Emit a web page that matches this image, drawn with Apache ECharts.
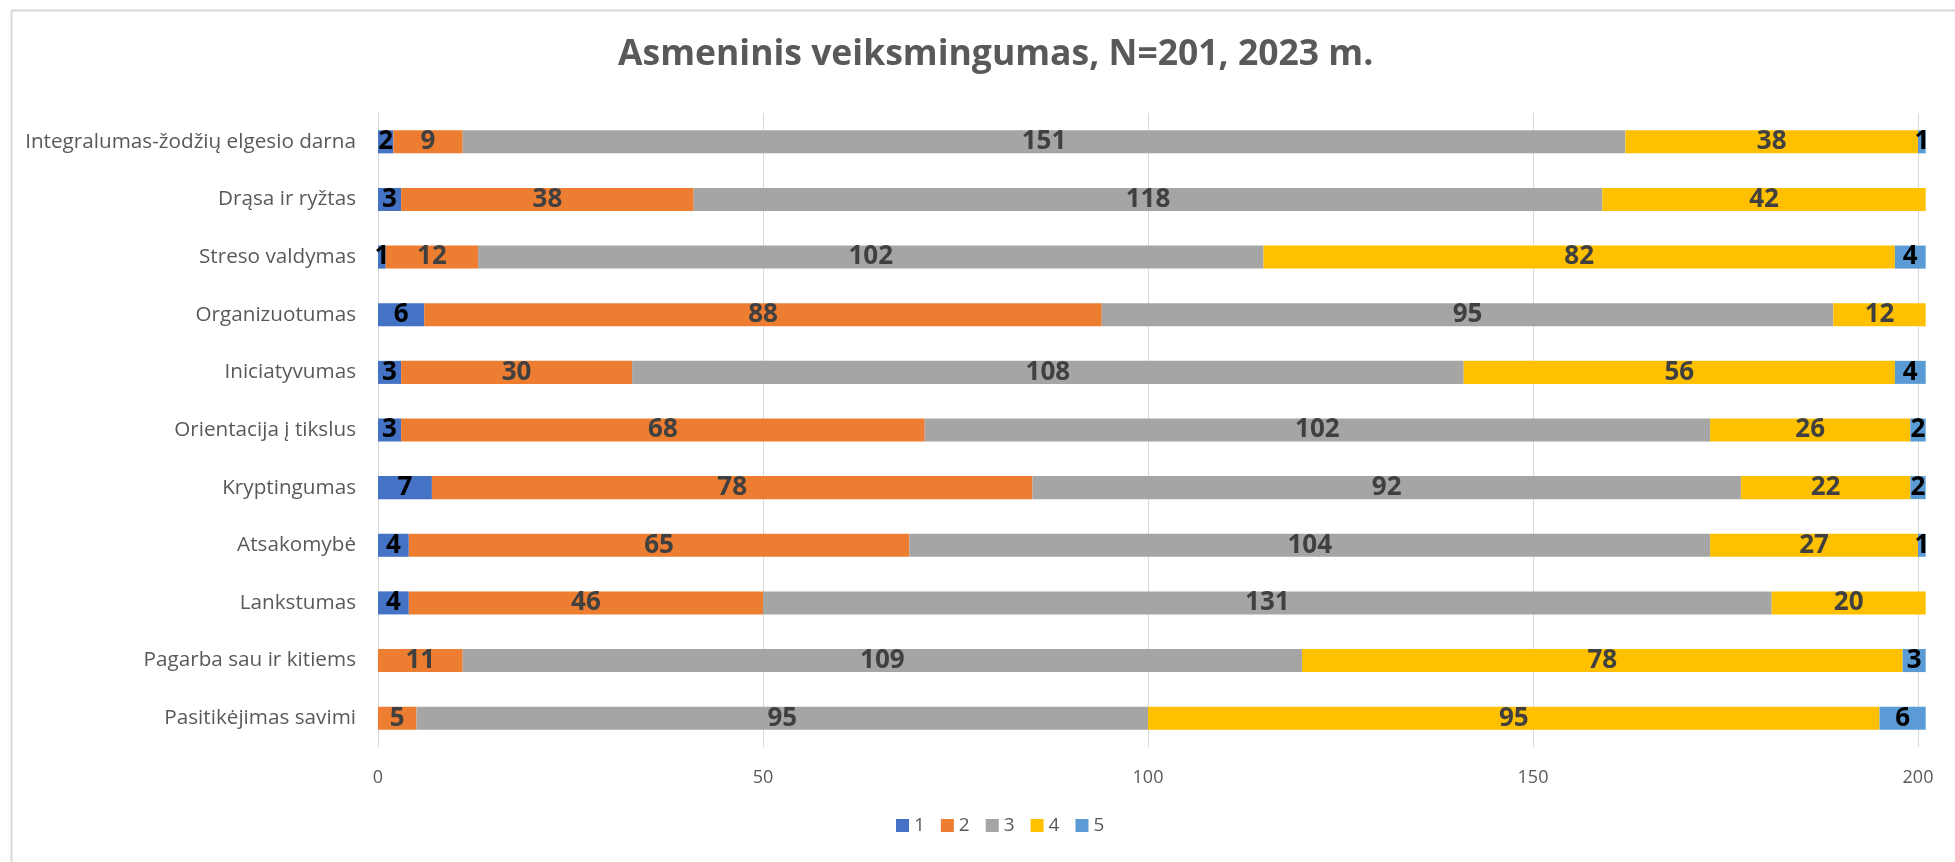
<!DOCTYPE html>
<html>
<head>
<meta charset="utf-8">
<script src="https://cdn.jsdelivr.net/npm/echarts@6/dist/echarts.min.js"></script>
<style>
  html, body { margin: 0; padding: 0; background: #fff; }
  #chart { width: 1955px; height: 862px; }
</style>
</head>
<body>
<div id="chart"></div>
<script>
// kategorijos (iš viršaus į apačią)
var categories = ['Integralumas-žodžių elgesio darna', 'Drąsa ir ryžtas', 'Streso valdymas',
  'Organizuotumas', 'Iniciatyvumas', 'Orientacija į tikslus', 'Kryptingumas',
  'Atsakomybė', 'Lankstumas', 'Pagarba sau ir kitiems', 'Pasitikėjimas savimi'];

var s1 = [2, 3, 1, 6, 3, 3, 7, 4, 4, 0, 0];
var s2 = [9, 38, 12, 88, 30, 68, 78, 65, 46, 11, 5];
var s3 = [151, 118, 102, 95, 108, 102, 92, 104, 131, 109, 95];
var s4 = [38, 42, 82, 12, 56, 26, 22, 27, 20, 78, 95];
var s5 = [1, 0, 4, 0, 4, 2, 2, 1, 0, 3, 6];

var seriesNames = ['1', '2', '3', '4', '5'];
var colors = ['#4472C4', '#ED7D31', '#A5A5A5', '#FFC000', '#5B9BD5'];
var labelColors = ['#000', '#404040', '#404040', '#404040', '#000'];
var xTicks = [0, 50, 100, 150, 200];

var font = '"Open Sans", "Liberation Sans", sans-serif';

function mkSeries(name, data, i) {
  return {
    name: name,
    type: 'bar',
    stack: 'total',
    barWidth: '40%',
    clip: false,
    data: data,
    itemStyle: {color: colors[i]},
    label: {
      show: true,
      position: 'inside',
      fontFamily: font,
      fontWeight: 'bold',
      fontSize: 26,
      color: labelColors[i],
      formatter: function (p) { return p.value ? p.value : ''; }
    }
  };
}

var option = {
  animation: false,
  backgroundColor: '#fff',
  title: {
    text: 'Asmeninis veiksmingumas, N=201, 2023 m.',
    left: 613,
    top: 32,
    textStyle: {fontFamily: font, fontWeight: 'bold', fontSize: 35.5, color: '#595959'}
  },
  legend: {
    data: seriesNames,
    bottom: 22,
    left: 891,
    itemWidth: 13,
    itemHeight: 13,
    itemGap: 16,
    icon: 'rect',
    textStyle: {fontFamily: font, fontSize: 19, color: '#595959'}
  },
  grid: {left: 378, right: 37, top: 113, bottom: 115, containLabel: false},
  xAxis: {
    type: 'value',
    min: xTicks[0],
    max: xTicks[xTicks.length - 1],
    interval: 50,
    axisLine: {show: false},
    axisTick: {show: false},
    splitLine: {lineStyle: {color: '#d9d9d9', width: 1}},
    axisLabel: {fontFamily: font, fontSize: 18, color: '#595959', margin: 22}
  },
  yAxis: {
    type: 'category',
    data: categories,
    inverse: true,
    axisLine: {lineStyle: {color: '#d9d9d9'}},
    axisTick: {show: false},
    axisLabel: {fontFamily: font, fontSize: 20.7, color: '#595959', margin: 22}
  },
  graphic: [{
    type: 'rect',
    left: 9, top: 8,
    shape: {width: 2000, height: 900},
    style: {fill: null, stroke: '#d9d9d9', lineWidth: 2},
    silent: true
  }],
  series: [
    mkSeries(seriesNames[0], s1, 0),
    mkSeries(seriesNames[1], s2, 1),
    mkSeries(seriesNames[2], s3, 2),
    mkSeries(seriesNames[3], s4, 3),
    mkSeries(seriesNames[4], s5, 4)
  ]
};

var chart = echarts.init(document.getElementById('chart'));
chart.setOption(option);
</script>
</body>
</html>
